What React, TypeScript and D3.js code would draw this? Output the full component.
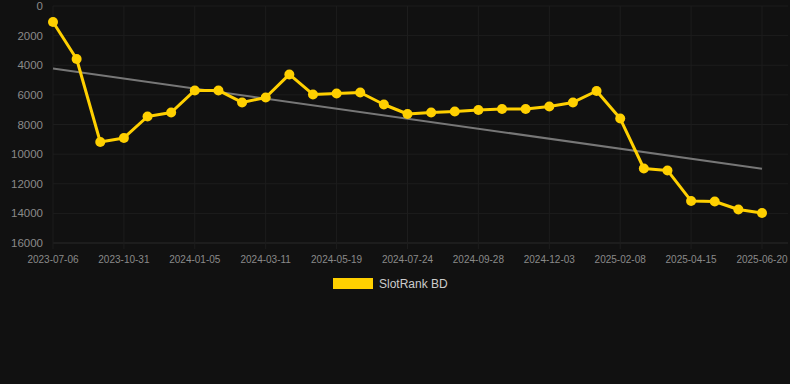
import React from "react";
import * as d3 from "d3";

const categories: string[] = [
  "2023-07-06", "2023-08-15", "2023-09-22", "2023-10-31", "2023-11-22", "2023-12-14",
  "2024-01-05", "2024-01-27", "2024-02-18", "2024-03-11", "2024-04-03", "2024-04-26",
  "2024-05-19", "2024-06-10", "2024-07-02", "2024-07-24", "2024-08-15", "2024-09-06",
  "2024-09-28", "2024-10-20", "2024-11-11", "2024-12-03", "2024-12-25", "2025-01-17",
  "2025-02-08", "2025-03-02", "2025-03-24", "2025-04-15", "2025-05-07", "2025-05-29",
  "2025-06-20",
];

const rankValues: number[] = [
  1080, 3580, 9180, 8910, 7460, 7190, 5700, 5700, 6510, 6180, 4620, 5970, 5910, 5840,
  6650, 7290, 7190, 7120, 7020, 6950, 6950, 6780, 6510, 5740, 7600, 10970, 11100,
  13160, 13200, 13740, 13970,
];

const yTicks: number[] = [0, 2000, 4000, 6000, 8000, 10000, 12000, 14000, 16000];
const seriesName = "SlotRank BD";

const W = 790;
const H = 384;
const left = 53;
const right = 762;
const top = 6;
const bottom = 243;

export default function App() {
  const x = d3
    .scalePoint<string>()
    .domain(categories)
    .range([left, right]);
  const y = d3.scaleLinear().domain([0, 16000]).range([top, bottom]);

  const line = d3
    .line<number>()
    .x((_, i) => x(categories[i]) as number)
    .y((d) => y(d));

  // linear regression trend
  const n = rankValues.length;
  const xs = rankValues.map((_, i) => i);
  const mx = d3.mean(xs) as number;
  const my = d3.mean(rankValues) as number;
  let num = 0;
  let den = 0;
  xs.forEach((xi, i) => {
    num += (xi - mx) * (rankValues[i] - my);
    den += (xi - mx) * (xi - mx);
  });
  const slope = num / den;
  const intercept = my - slope * mx;
  const trendStart = intercept;
  const trendEnd = intercept + slope * (n - 1);

  const labelIdx = categories.map((_, i) => i).filter((i) => i % 3 === 0);

  const font = "Helvetica, Arial, 'Liberation Sans', sans-serif";

  return (
    <svg
      width={W}
      height={H}
      style={{ position: "fixed", left: 0, top: 0, background: "#111111" }}
    >
      <rect x={0} y={0} width={W} height={H} fill="#111111" />
      {yTicks.map((t) => (
        <g key={"y" + t}>
          <line
            x1={left}
            x2={788}
            y1={y(t)}
            y2={y(t)}
            stroke={t === 16000 ? "#2a2a2a" : "#1d1d1d"}
            strokeWidth={1}
          />
          <text
            x={43}
            y={y(t)}
            dy="0.35em"
            textAnchor="end"
            fill="#8a8a8a"
            fontSize={11.5}
            fontFamily={font}
          >
            {t}
          </text>
        </g>
      ))}
      {labelIdx.map((i) => {
        const px = x(categories[i]) as number;
        return (
          <g key={"x" + i}>
            <line x1={px} x2={px} y1={top} y2={bottom + 6} stroke="#1d1d1d" strokeWidth={1} />
            <text
              x={px}
              y={259}
              dy="0.35em"
              textAnchor="middle"
              fill="#8a8a8a"
              fontSize={10}
              fontFamily={font}
            >
              {categories[i]}
            </text>
          </g>
        );
      })}
      <line
        x1={x(categories[0]) as number}
        x2={x(categories[n - 1]) as number}
        y1={y(trendStart)}
        y2={y(trendEnd)}
        stroke="#777777"
        strokeWidth={2}
      />
      <path d={line(rankValues) || ""} fill="none" stroke="#FFD000" strokeWidth={3} strokeLinejoin="round" />
      {rankValues.map((v, i) => (
        <circle key={"c" + i} cx={x(categories[i]) as number} cy={y(v)} r={5} fill="#FFD000" />
      ))}
      <rect x={333} y={278} width={40} height={11} fill="#FFD000" />
      <text x={379} y={284} dy="0.35em" fill="#cccccc" fontSize={12} fontFamily={font}>
        {seriesName}
      </text>
    </svg>
  );
}
